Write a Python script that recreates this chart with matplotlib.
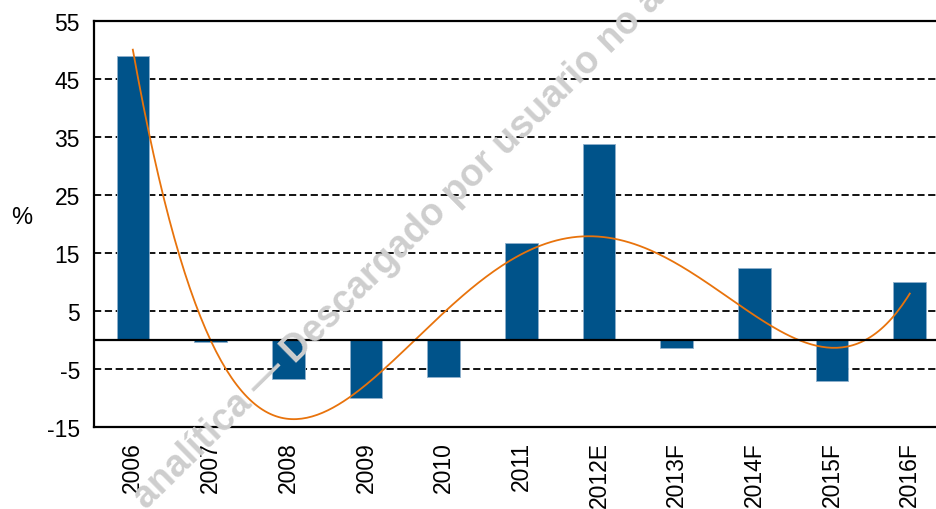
import numpy as np
import matplotlib
matplotlib.use("Agg")
import matplotlib.pyplot as plt

# ===== Data =====
years = ["2006", "2007", "2008", "2009", "2010", "2011",
         "2012E", "2013F", "2014F", "2015F", "2016F"]
growth = [49.0, -0.4, -6.7, -10.0, -6.4, 16.7, 33.8, -1.4, 12.4, -7.1, 10.0]
trend_degree = 4
y_ticks = [-15, -5, 5, 15, 25, 35, 45, 55]
watermark = "analítica \u2014 Descargado por usuario no autorizado"

BAR_COLOR = "#00538A"
TREND_COLOR = "#E8730C"

plt.rcParams["font.family"] = ["Liberation Sans", "DejaVu Sans"]
plt.rcParams["font.size"] = 16.5
plt.rcParams["axes.unicode_minus"] = False

fig = plt.figure(figsize=(9.37, 5.10), dpi=100)
ax = fig.add_axes([0.1003, 0.161, 0.8997, 0.796])
ax.patch.set_alpha(0)

# watermark behind everything (cut by the figure edges, as in the source)
fig.text(0.156, 0.0, watermark, rotation=44.5, rotation_mode="anchor",
         ha="left", va="baseline", fontsize=27, fontweight="bold",
         color="#cecece", zorder=0)

x = np.arange(len(years))
ax.bar(x, growth, width=0.42, color=BAR_COLOR, edgecolor="#8fb0cc",
       linewidth=0.6, zorder=3)

# polynomial trend line (like the spreadsheet trendline)
xs = np.linspace(0, len(years) - 1, 300)
coef = np.polyfit(x + 1, growth, trend_degree)
ax.plot(xs, np.polyval(coef, xs + 1), color=TREND_COLOR, lw=1.3, zorder=4)

for t in y_ticks[1:]:
    ax.axhline(t, color="black", lw=1.3, ls=(0, (4, 2)), zorder=2)
ax.axhline(0, color="black", lw=1.6, zorder=5)

ax.set_xlim(-0.5, 10.35)
ax.set_ylim(-15, 55)
ax.set_yticks(y_ticks)
ax.set_xticks(x)
ax.set_xticklabels(years, rotation=90)
ax.tick_params(length=0)
ax.tick_params(axis="y", pad=10)
ax.tick_params(axis="x", pad=10)

for side in ["left", "bottom", "top"]:
    ax.spines[side].set_linewidth(1.6)
    ax.spines[side].set_zorder(6)
ax.spines["right"].set_visible(False)

fig.text(0.023, 0.573, "%", ha="center", va="center", fontsize=17)

fig.savefig("out.png", dpi=100)
